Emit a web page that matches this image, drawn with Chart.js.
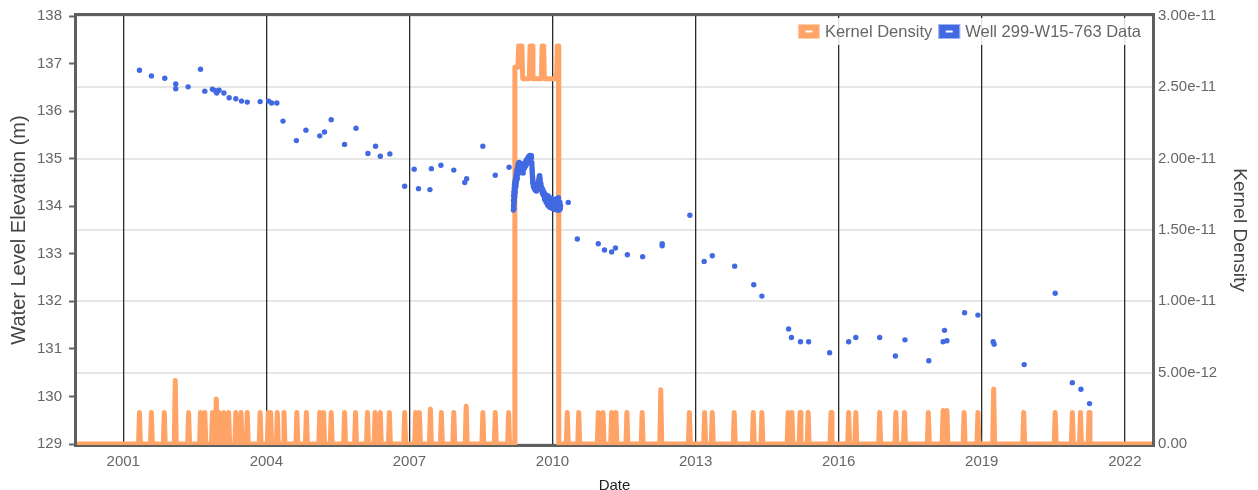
<!DOCTYPE html>
<html>
<head>
<meta charset="utf-8">
<title>Well 299-W15-763 water levels</title>
<script src="https://cdn.jsdelivr.net/npm/chart.js@4.4.1/dist/chart.umd.min.js"></script>
<style>
  html, body { margin: 0; padding: 0; background: #ffffff; }
  #wrap { width: 1258px; height: 490px; position: relative; }
</style>
</head>
<body>
<div id="wrap"><canvas id="chart" width="1258" height="490"></canvas></div>
<script>
// Axis ranges and tick positions
const xRange = [2000.03, 2022.57];
const yearTicks = [2001, 2004, 2007, 2010, 2013, 2016, 2019, 2022];
const elevationTicks = [129, 130, 131, 132, 133, 134, 135, 136, 137, 138];
const densityTicks = [0, 5e-12, 1e-11, 1.5e-11, 2e-11, 2.5e-11, 3e-11];

// Routine (periodic) water level measurements: decimal year, elevation (m)
const wellYears = [
  2001.34, 2001.59, 2001.87, 2002.10, 2002.10, 2002.36, 2002.62, 2002.71, 2002.87, 2002.93,
  2002.96, 2003.01, 2003.11, 2003.22, 2003.36, 2003.48, 2003.60, 2003.87, 2004.05, 2004.11,
  2004.22, 2004.35, 2004.63, 2004.83, 2005.12, 2005.22, 2005.36, 2005.64, 2005.88, 2006.13,
  2006.29, 2006.39, 2006.59, 2006.90, 2007.10, 2007.19, 2007.43, 2007.46, 2007.66, 2007.93,
  2008.16, 2008.20, 2008.54, 2008.80, 2009.09, 2010.33, 2010.52, 2010.96, 2011.09, 2011.24,
  2011.32, 2011.57, 2011.89, 2012.30, 2012.30, 2012.88, 2013.18, 2013.35, 2013.82, 2014.22,
  2014.39, 2014.95, 2015.01, 2015.20, 2015.37, 2015.81, 2016.21, 2016.36, 2016.86, 2017.19,
  2017.39, 2017.89, 2018.19, 2018.22, 2018.27, 2018.64, 2018.92, 2019.24, 2019.26, 2019.89,
  2020.54, 2020.90, 2021.08, 2021.26
];
const wellElevations = [
  136.86, 136.74, 136.69, 136.57, 136.47, 136.51, 136.88, 136.42, 136.46, 136.43,
  136.38, 136.44, 136.38, 136.28, 136.26, 136.21, 136.19, 136.20, 136.21, 136.17,
  136.17, 135.79, 135.38, 135.60, 135.48, 135.56, 135.82, 135.30, 135.64, 135.11,
  135.26, 135.05, 135.10, 134.42, 134.78, 134.37, 134.35, 134.79, 134.86, 134.76,
  134.50, 134.58, 135.26, 134.65, 134.82, 134.08, 133.31, 133.21, 133.08, 133.04,
  133.12, 132.98, 132.94, 133.21, 133.17, 133.81, 132.84, 132.96, 132.74, 132.35,
  132.11, 131.42, 131.24, 131.15, 131.15, 130.92, 131.15, 131.24, 131.24, 130.85,
  131.19, 130.75, 131.15, 131.39, 131.17, 131.76, 131.71, 131.15, 131.10, 130.67,
  132.17, 130.29, 130.15, 129.85
];

// High-frequency logger record, 2009-2010
const loggerYears = [
  2009.180, 2009.184, 2009.187, 2009.190, 2009.193, 2009.196, 2009.200, 2009.204, 2009.208, 2009.212,
  2009.216, 2009.221, 2009.226, 2009.231, 2009.236, 2009.242, 2009.248, 2009.254, 2009.260, 2009.266,
  2009.272, 2009.278, 2009.284, 2009.290, 2009.296, 2009.302, 2009.308, 2009.314, 2009.320, 2009.326,
  2009.332, 2009.338, 2009.345, 2009.352, 2009.360, 2009.368, 2009.376, 2009.384, 2009.392, 2009.400,
  2009.408, 2009.416, 2009.424, 2009.432, 2009.440, 2009.448, 2009.456, 2009.464, 2009.472, 2009.480,
  2009.488, 2009.496, 2009.504, 2009.512, 2009.520, 2009.528, 2009.536, 2009.544, 2009.552, 2009.560,
  2009.566, 2009.571, 2009.576, 2009.581, 2009.587, 2009.593, 2009.600, 2009.608, 2009.616, 2009.624,
  2009.632, 2009.640, 2009.648, 2009.656, 2009.664, 2009.672, 2009.680, 2009.688, 2009.696, 2009.704,
  2009.712, 2009.720, 2009.728, 2009.736, 2009.744, 2009.752, 2009.760, 2009.768, 2009.776, 2009.784,
  2009.792, 2009.800, 2009.808, 2009.816, 2009.824, 2009.832, 2009.840, 2009.848, 2009.856, 2009.864,
  2009.872, 2009.880, 2009.888, 2009.896, 2009.904, 2009.912, 2009.920, 2009.928, 2009.936, 2009.944,
  2009.952, 2009.960, 2009.968, 2009.976, 2009.984, 2009.992, 2010.000, 2010.008, 2010.016, 2010.024,
  2010.032, 2010.040, 2010.048, 2010.056, 2010.064, 2010.072, 2010.080, 2010.088, 2010.096, 2010.104,
  2010.112, 2010.120, 2010.128, 2010.136, 2010.144, 2010.152, 2010.160, 2010.168,
  2009.182, 2009.185, 2009.189, 2009.192, 2009.198, 2009.203, 2009.210, 2009.218, 2009.228, 2009.240,
  2009.252, 2009.264, 2009.276, 2009.288, 2009.300, 2009.318, 2009.334, 2009.350, 2009.366, 2009.380,
  2009.396, 2009.412, 2009.428, 2009.444, 2009.460, 2009.476, 2009.492, 2009.508, 2009.524, 2009.540,
  2009.556, 2009.568, 2009.574, 2009.579, 2009.584, 2009.590, 2009.604, 2009.620, 2009.636, 2009.652,
  2009.668, 2009.684, 2009.700, 2009.716, 2009.724, 2009.732, 2009.740, 2009.756, 2009.772, 2009.788,
  2009.804, 2009.820, 2009.836, 2009.852, 2009.868, 2009.884, 2009.900, 2009.916, 2009.932, 2009.948,
  2009.964, 2009.980, 2009.996, 2010.012, 2010.028, 2010.044, 2010.060, 2010.076, 2010.092, 2010.108,
  2010.124, 2010.140, 2010.156, 2010.164, 2009.836, 2009.868, 2009.900, 2009.940, 2009.980, 2010.020,
  2010.060, 2010.100, 2010.140
];
const loggerElevations = [
  133.92, 134.02, 133.97, 134.10, 134.05, 134.18, 134.12, 134.26, 134.20, 134.32,
  134.28, 134.38, 134.44, 134.41, 134.48, 134.52, 134.56, 134.60, 134.58, 134.66,
  134.70, 134.68, 134.76, 134.80, 134.78, 134.84, 134.82, 134.87, 134.89, 134.86,
  134.83, 134.80, 134.84, 134.79, 134.76, 134.72, 134.75, 134.70, 134.78, 134.82,
  134.80, 134.85, 134.83, 134.87, 134.85, 134.89, 134.91, 134.90, 134.94, 134.96,
  134.95, 134.98, 135.00, 134.99, 135.02, 135.01, 135.03, 135.05, 135.04, 135.02,
  134.92, 134.80, 134.70, 134.62, 134.54, 134.48, 134.42, 134.44, 134.38, 134.40,
  134.35, 134.37, 134.33, 134.36, 134.32, 134.35, 134.38, 134.36, 134.42, 134.46,
  134.52, 134.58, 134.60, 134.55, 134.50, 134.44, 134.40, 134.36, 134.33, 134.30,
  134.27, 134.29, 134.24, 134.26, 134.21, 134.23, 134.18, 134.20, 134.16, 134.18,
  134.13, 134.16, 134.12, 134.18, 134.14, 134.10, 134.16, 134.08, 134.12, 134.06,
  134.10, 134.04, 134.12, 134.07, 134.02, 134.10, 134.05, 134.00, 134.08, 134.03,
  133.98, 134.06, 134.01, 133.97, 134.04, 133.99, 134.06, 134.10, 134.02, 133.96,
  134.08, 134.14, 134.02, 133.95, 134.04, 133.99, 133.94, 134.01,
  134.12, 134.22, 134.30, 133.95, 134.38, 134.45, 134.50, 134.55, 134.62, 134.70,
  134.75, 134.80, 134.86, 134.90, 134.92, 134.80, 134.90, 134.74, 134.80, 134.78,
  134.88, 134.90, 134.92, 134.95, 134.98, 135.00, 135.03, 135.05, 135.06, 135.07,
  135.06, 134.86, 134.75, 134.66, 134.58, 134.50, 134.48, 134.45, 134.42, 134.44,
  134.40, 134.44, 134.50, 134.56, 134.63, 134.64, 134.58, 134.48, 134.40, 134.36,
  134.33, 134.28, 134.27, 134.24, 134.22, 134.20, 134.22, 134.20, 134.17, 134.18,
  134.15, 134.16, 134.13, 134.15, 134.11, 134.14, 134.10, 134.12, 134.16, 134.11,
  134.18, 134.10, 134.08, 133.97, 134.14, 134.08, 134.02, 133.98, 133.96, 133.94,
  133.93, 133.92, 133.92
];

// Kernel density of sampling times: isolated peaks (decimal year, density)
const densityPeakYears = [
  2001.34, 2001.59, 2001.86, 2002.09, 2002.37, 2002.62, 2002.71, 2002.87, 2002.95, 2003.01,
  2003.11, 2003.21, 2003.36, 2003.47, 2003.60, 2003.87, 2004.04, 2004.09, 2004.23, 2004.37,
  2004.64, 2004.84, 2005.12, 2005.20, 2005.36, 2005.64, 2005.87, 2006.12, 2006.28, 2006.39,
  2006.58, 2006.90, 2007.13, 2007.21, 2007.44, 2007.67, 2007.93, 2008.19, 2008.54, 2008.80,
  2009.08, 2010.31, 2010.55, 2010.96, 2011.06, 2011.24, 2011.33, 2011.56, 2011.88, 2012.27,
  2012.87, 2013.19, 2013.35, 2013.81, 2014.21, 2014.39, 2014.94, 2015.02, 2015.19, 2015.36,
  2015.84, 2016.21, 2016.36, 2016.86, 2017.20, 2017.38, 2017.88, 2018.19, 2018.27, 2018.63,
  2018.92, 2019.25, 2019.88, 2020.54, 2020.90, 2021.07, 2021.25
];
const densityPeakValues = [
  2.2e-12, 2.2e-12, 2.2e-12, 4.45e-12, 2.2e-12, 2.2e-12, 2.2e-12, 2.2e-12, 3.15e-12, 2.2e-12,
  2.2e-12, 2.2e-12, 2.2e-12, 2.2e-12, 2.2e-12, 2.2e-12, 2.2e-12, 2.2e-12, 2.2e-12, 2.2e-12,
  2.2e-12, 2.2e-12, 2.2e-12, 2.2e-12, 2.2e-12, 2.2e-12, 2.2e-12, 2.2e-12, 2.2e-12, 2.2e-12,
  2.2e-12, 2.2e-12, 2.2e-12, 2.2e-12, 2.45e-12, 2.2e-12, 2.2e-12, 2.65e-12, 2.2e-12, 2.2e-12,
  2.2e-12, 2.2e-12, 2.2e-12, 2.2e-12, 2.2e-12, 2.2e-12, 2.2e-12, 2.2e-12, 2.2e-12, 3.8e-12,
  2.2e-12, 2.2e-12, 2.2e-12, 2.2e-12, 2.2e-12, 2.2e-12, 2.2e-12, 2.2e-12, 2.2e-12, 2.2e-12,
  2.2e-12, 2.2e-12, 2.2e-12, 2.2e-12, 2.2e-12, 2.2e-12, 2.2e-12, 2.35e-12, 2.35e-12, 2.2e-12,
  2.2e-12, 3.85e-12, 2.2e-12, 2.2e-12, 2.2e-12, 2.2e-12, 2.2e-12
];
// Kernel density over the logger period (outline of the plateau)
const densityBlockYears = [
  2009.205, 2009.211, 2009.274, 2009.290, 2009.358, 2009.375, 2009.515, 2009.530, 2009.575,
  2009.590, 2009.767, 2009.782, 2009.815, 2009.830, 2010.085, 2010.100, 2010.125, 2010.132
];
const densityBlockValues = [
  0, 2.64e-11, 2.64e-11, 2.79e-11, 2.79e-11, 2.56e-11, 2.56e-11, 2.79e-11, 2.79e-11,
  2.56e-11, 2.56e-11, 2.79e-11, 2.79e-11, 2.56e-11, 2.56e-11, 2.79e-11, 2.79e-11, 0
];

const ORANGE = '#ffa366';
const BLUE = '#4169e1';
const FONT = '"Liberation Sans", Arial, Helvetica, sans-serif';

// Density trace: zero baseline with a narrow peak at each sampling time plus the plateau
const peakHalfWidth = 0.02;
const densityPoints = [{ x: xRange[0], y: 0 }];
densityPeakYears.forEach((yr, i) => {
  densityPoints.push({ x: yr - peakHalfWidth, y: 0 });
  densityPoints.push({ x: yr, y: densityPeakValues[i] });
  densityPoints.push({ x: yr + peakHalfWidth, y: 0 });
});
densityBlockYears.forEach((yr, i) => densityPoints.push({ x: yr, y: densityBlockValues[i] }));
densityPoints.push({ x: xRange[1], y: 0 });
densityPoints.sort((a, b) => a.x - b.x);

const wellPoints = wellYears.map((yr, i) => ({ x: yr, y: wellElevations[i] }))
  .concat(loggerYears.map((yr, i) => ({ x: yr, y: loggerElevations[i] })));

// Dark frame around the plot area, drawn just outside its edges
const plotFrame = {
  id: 'plotFrame',
  beforeDatasetsDraw(chart) {
    const { ctx, chartArea: a } = chart;
    ctx.save();
    ctx.strokeStyle = '#5f5f5f';
    ctx.lineWidth = 3;
    ctx.strokeRect(a.left - 1.5, a.top - 1.5, a.right - a.left + 3, a.bottom - a.top + 3);
    ctx.restore();
  }
};

// Legend placed inside the top-right corner of the plot area
const insetLegend = {
  id: 'insetLegend',
  afterDatasetsDraw(chart) {
    const { ctx, chartArea } = chart;
    const items = chart.data.datasets.map(d => ({ text: d.label, color: d.legendColor }));
    const boxW = 22, boxH = 15, gapText = 5, gapItem = 6;
    ctx.save();
    ctx.font = '16.5px ' + FONT;
    const widths = items.map(it => ctx.measureText(it.text).width);
    const total = widths.reduce((s, w) => s + boxW + gapText + w, 0) + gapItem * (items.length - 1);
    const cy = 31.5;
    let x = chartArea.right - 11 - total;
    ctx.fillStyle = 'rgba(255,255,255,0.85)';
    ctx.fillRect(x - 8, 18, total + 16, 27);
    items.forEach((it, i) => {
      const top = cy - boxH / 2;
      ctx.fillStyle = it.color;
      ctx.fillRect(x, top, boxW, boxH);
      ctx.strokeStyle = 'rgba(255,255,255,0.5)';
      ctx.lineWidth = 1;
      ctx.strokeRect(x + 0.5, top + 0.5, boxW - 1, boxH - 1);
      ctx.fillStyle = '#ffffff';
      ctx.fillRect(x + boxW / 2 - 3.5, cy - 1, 7, 2);
      ctx.fillStyle = '#666666';
      ctx.textAlign = 'left';
      ctx.textBaseline = 'middle';
      ctx.fillText(it.text, x + boxW + gapText, cy + 0.5);
      x += boxW + gapText + widths[i] + gapItem;
    });
    ctx.restore();
  }
};

Chart.defaults.font.family = FONT;
Chart.defaults.color = '#666666';

new Chart(document.getElementById('chart'), {
  type: 'line',
  data: {
    datasets: [
      {
        label: 'Kernel Density',
        data: densityPoints,
        yAxisID: 'y1',
        borderColor: ORANGE,
        backgroundColor: ORANGE,
        legendColor: ORANGE,
        borderWidth: 5,
        borderJoinStyle: 'round',
        borderCapStyle: 'round',
        pointRadius: 0,
        tension: 0,
        fill: false,
        order: 2,
        clip: { left: 0, right: 0, top: 0, bottom: 1 }
      },
      {
        label: 'Well 299-W15-763 Data',
        data: wellPoints,
        yAxisID: 'y',
        showLine: false,
        borderColor: BLUE,
        backgroundColor: BLUE,
        legendColor: BLUE,
        pointBackgroundColor: BLUE,
        pointBorderWidth: 0,
        pointRadius: 2.7,
        order: 1
      }
    ]
  },
  options: {
    responsive: false,
    animation: false,
    events: [],
    layout: { padding: { top: 12, left: 0, right: 0, bottom: 0 } },
    plugins: { legend: { display: false }, tooltip: { enabled: false } },
    scales: {
      x: {
        type: 'linear',
        position: 'bottom',
        min: xRange[0],
        max: xRange[1],
        afterBuildTicks: s => { s.ticks = yearTicks.map(v => ({ value: v })); },
        afterFit: s => { s.height = 46; },
        ticks: { callback: v => String(v), font: { size: 15 }, color: '#666666', padding: 9, maxRotation: 0 },
        grid: { color: '#2a2a2a', lineWidth: 1.3, drawTicks: false, z: -1 },
        border: { display: false },
        title: { display: true, text: 'Date', font: { size: 15 }, color: '#222222', padding: { top: 0, bottom: -5 } }
      },
      y: {
        type: 'linear',
        position: 'left',
        min: 129,
        max: 138,
        afterBuildTicks: s => { s.ticks = elevationTicks.map(v => ({ value: v })); },
        afterFit: s => { s.width = 77; },
        ticks: { callback: v => String(v), font: { size: 15 }, color: '#666666', padding: 7 },
        grid: { drawOnChartArea: false, drawTicks: true, tickLength: 8, tickColor: '#666666', tickWidth: 2 },
        border: { display: false },
        title: { display: true, text: 'Water Level Elevation (m)', font: { size: 20 }, color: '#444444', padding: { top: 7, bottom: 0 } }
      },
      y1: {
        type: 'linear',
        position: 'right',
        min: 0,
        max: 3e-11,
        afterBuildTicks: s => { s.ticks = densityTicks.map(v => ({ value: v })); },
        afterFit: s => { s.width = 106; },
        ticks: { callback: v => (v === 0 ? '0.00' : Number(v).toExponential(2)), font: { size: 15 }, color: '#666666', padding: 6 },
        grid: { drawOnChartArea: true, drawTicks: false, color: '#e6e6e6', lineWidth: 2, z: -2 },
        border: { display: false },
        title: { display: true, text: 'Kernel Density', font: { size: 19 }, color: '#444444', padding: { top: 7, bottom: 0 } }
      }
    }
  },
  plugins: [plotFrame, insetLegend]
});
</script>
</body>
</html>
